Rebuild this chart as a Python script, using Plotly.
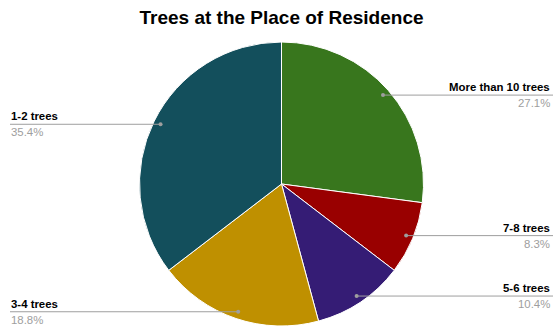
import math
import plotly.graph_objects as go

# Slices, clockwise from 12 o'clock
labels = ["More than 10 trees", "7-8 trees", "5-6 trees", "3-4 trees", "1-2 trees"]
shares = [27.1, 8.3, 10.4, 18.8, 35.4]
colors = ["#38761d", "#990000", "#351c75", "#bf9000", "#134f5c"]

W, H = 553, 326
M = dict(l=10, r=0, t=42, b=0)
PW = W - M["l"] - M["r"]
PH = H - M["t"] - M["b"]
R = min(PW, PH) / 2
CX, CY = M["l"] + PW / 2, M["t"] + PH / 2


def to_paper(x, y):
    return (x - M["l"]) / PW, 1 - (y - M["t"]) / PH


fig = go.Figure(go.Pie(
    labels=labels,
    values=shares,
    sort=False,
    direction="clockwise",
    rotation=0,
    marker=dict(colors=colors, line=dict(color="#ffffff", width=1)),
    textinfo="none",
    hoverinfo="label+percent",
    showlegend=False,
    domain=dict(x=[0, 1], y=[0, 1]),
))

shapes, annotations = [], []
total = sum(shares)
cum = 0.0
for lab, val in zip(labels, shares):
    mid = (cum + val / 2) / total * 2 * math.pi
    cum += val
    dx, dy = CX + 0.95 * R * math.sin(mid), CY - 0.95 * R * math.cos(mid)
    right = math.sin(mid) > 0
    x_end = W if right else 10
    px0, py = to_paper(dx, dy)
    px1, _ = to_paper(x_end, dy)
    shapes.append(dict(type="line", xref="paper", yref="paper",
                       x0=px0, x1=px1, y0=py, y1=py,
                       line=dict(color="#9e9e9e", width=1)))
    r2x, r2y = 2 / PW, 2 / PH
    shapes.append(dict(type="circle", xref="paper", yref="paper",
                       x0=px0 - r2x, x1=px0 + r2x, y0=py - r2y, y1=py + r2y,
                       fillcolor="#9e9e9e", line=dict(width=0)))
    tx, _ = to_paper(W - 1 if right else 9, dy)
    anchor = "right" if right else "left"
    annotations.append(dict(x=tx, y=py, xref="paper", yref="paper",
                            text=f"<b>{lab}</b>", showarrow=False,
                            xanchor=anchor, yanchor="bottom", yshift=0,
                            font=dict(family="Liberation Sans, Arial", size=11.4, color="#000000")))
    annotations.append(dict(x=tx, y=py, xref="paper", yref="paper",
                            text=f"{val:.1f}%", showarrow=False,
                            xanchor=anchor, yanchor="top", yshift=0,
                            font=dict(family="Liberation Sans, Arial", size=11.4, color="#9e9e9e")))

fig.update_layout(
    width=W, height=H,
    margin=M,
    paper_bgcolor="#ffffff",
    plot_bgcolor="#ffffff",
    title=dict(text="<b>Trees at the Place of Residence</b>",
               x=0.5, xref="paper", xanchor="center",
               y=1 - 17 / H, yref="container", yanchor="middle",
               font=dict(family="Liberation Sans, Arial", size=19, color="#000000")),
    shapes=shapes,
    annotations=annotations,
)

fig.write_html("out.html")
